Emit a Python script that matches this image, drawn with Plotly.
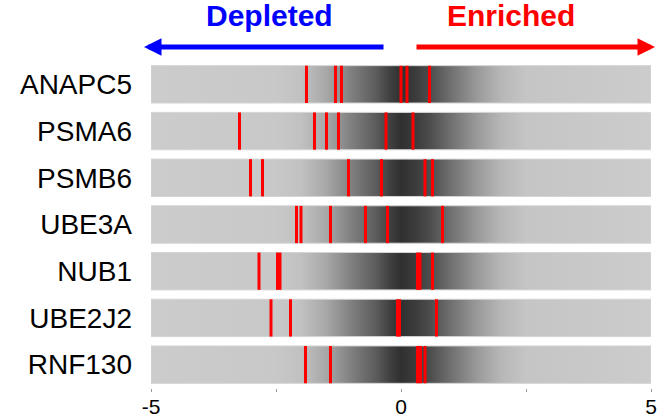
import plotly.graph_objects as go

# ---- data ----
genes = ["ANAPC5", "PSMA6", "PSMB6", "UBE3A", "NUB1", "UBE2J2", "RNF130"]
guide_lfc = {
    "ANAPC5": [-1.89, -1.31, -1.19, 0.00, 0.12, 0.57],
    "PSMA6":  [-3.23, -1.73, -1.49, -1.25, -0.30, 0.24],
    "PSMB6":  [-3.01, -2.77, -1.05, -0.39, 0.48, 0.63],
    "UBE3A":  [-2.09, -2.00, -1.41, -0.71, -0.27, 0.83],
    "NUB1":   [-2.84, -2.47, -2.42, 0.33, 0.38, 0.63],
    "UBE2J2": [-2.60, -2.21, -0.07, -0.03, 0.71],
    "RNF130": [-1.91, -1.41, 0.33, 0.39, 0.48],
}
x_ticks = [-5, -2.5, 0, 2.5, 5]
x_ticktext = ["-5", "", "0", "", "5"]
XMIN, XMAX = -5, 5

# background distribution gradient (value, gray level)
grad_vals = [-5, -2.5, -2.0, -1.5, -1.0, -0.5, -0.2, 0.0, 0.3, 0.6, 1.0, 1.5, 2.0, 2.5, 5]
grad_gray = [204, 200, 193, 168, 128, 92, 62, 48, 60, 78, 112, 152, 183, 197, 204]

colorscale = [[(v - XMIN) / (XMAX - XMIN), f"rgb({g},{g},{g})"] for v, g in zip(grad_vals, grad_gray)]

FONT = "Liberation Sans, Arial, sans-serif"
HALF = 0.4

fig = go.Figure()
for i, g in enumerate(genes):
    fig.add_trace(go.Scatter(
        x=[XMIN, XMAX, XMAX, XMIN, XMIN],
        y=[i - HALF, i - HALF, i + HALF, i + HALF, i - HALF],
        mode="lines", fill="toself",
        line=dict(color="rgb(212,212,212)", width=1),
        fillgradient=dict(type="horizontal", colorscale=colorscale),
        hoverinfo="skip", showlegend=False,
    ))

for i, g in enumerate(genes):
    vals = guide_lfc[g]
    fig.add_trace(go.Scatter(
        x=vals, y=[i] * len(vals), mode="markers",
        marker=dict(symbol="line-ns", size=26.6, line=dict(color="#ff0000", width=3)),
        showlegend=False, name=g,
    ))

# arrows
ay_paper = 1.043
fig.add_annotation(x=-5.14, y=ay_paper, ax=-0.32, ay=0, xref="x", yref="paper",
                   axref="x", ayref="pixel", showarrow=True, arrowhead=2, arrowwidth=5,
                   arrowsize=0.7, arrowcolor="#0000ff", text="")
fig.add_annotation(x=5.08, y=ay_paper, ax=0.28, ay=0, xref="x", yref="paper",
                   axref="x", ayref="pixel", showarrow=True, arrowhead=2, arrowwidth=5,
                   arrowsize=0.7, arrowcolor="#ff0000", text="")
fig.add_annotation(x=-2.64, y=1.14, xref="x", yref="paper", text="<b>Depleted</b>",
                   showarrow=False, font=dict(family=FONT, size=30, color="#0000ff"),
                   xanchor="center", yanchor="middle")
fig.add_annotation(x=2.2, y=1.14, xref="x", yref="paper", text="<b>Enriched</b>",
                   showarrow=False, font=dict(family=FONT, size=30, color="#ff0000"),
                   xanchor="center", yanchor="middle")

fig.update_layout(
    width=669, height=418,
    margin=dict(l=151, r=18, t=61, b=30),
    plot_bgcolor="white", paper_bgcolor="white",
    font=dict(family=FONT, color="black"),
    xaxis=dict(range=[XMIN, XMAX], tickvals=x_ticks, ticktext=x_ticktext,
               ticks="outside", ticklen=3, tickcolor="#999999", showgrid=False,
               zeroline=False, showline=False, tickfont=dict(size=21),
               ticklabelstandoff=-3, automargin=False),
    yaxis=dict(range=[len(genes) - 0.5, -0.5], tickvals=list(range(len(genes))),
               ticktext=genes, ticks="", showgrid=False, zeroline=False,
               showline=False, tickfont=dict(size=28), ticklabelstandoff=18,
               automargin=False),
)
fig.write_html("out.html")
